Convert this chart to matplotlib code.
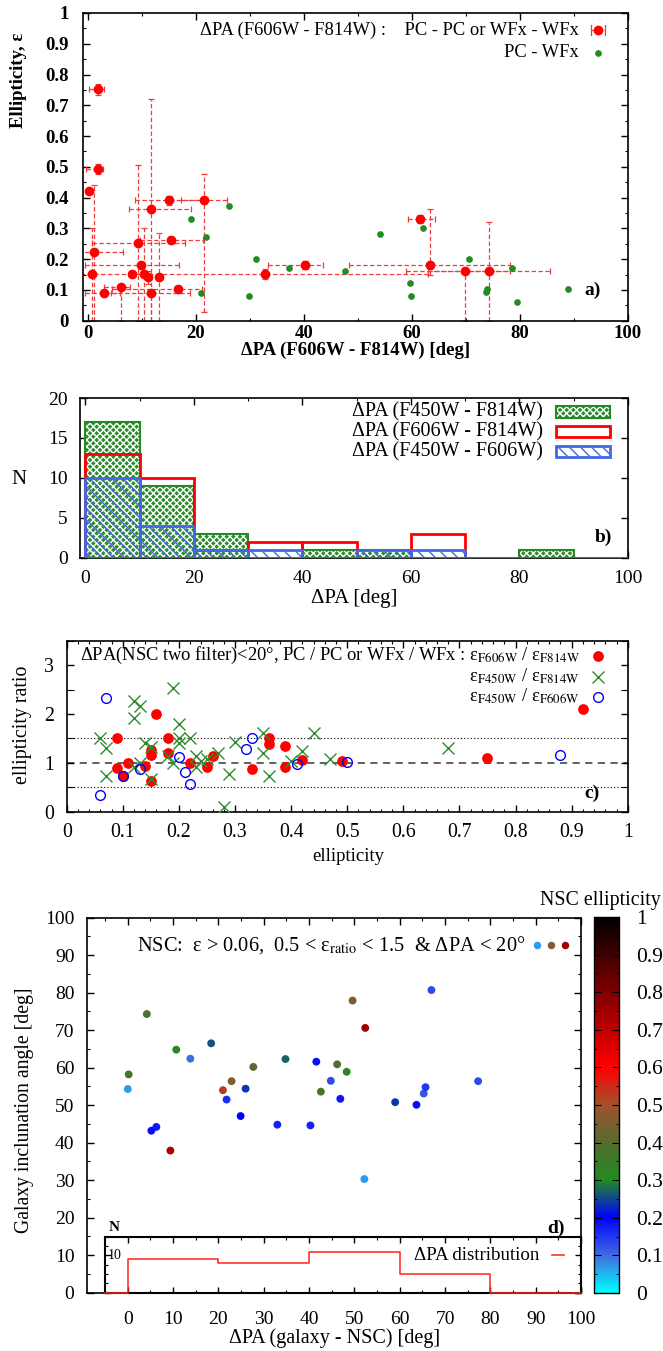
import numpy as np
import matplotlib
matplotlib.use("Agg")
import matplotlib.pyplot as plt
from matplotlib.colors import LinearSegmentedColormap
from matplotlib.patches import Rectangle
from matplotlib.ticker import MultipleLocator, FuncFormatter

plt.rcParams['font.family'] = ['Liberation Serif', 'DejaVu Serif']
plt.rcParams['mathtext.fontset'] = 'stix'
plt.rcParams['hatch.linewidth'] = 1.0

# ---------------- panel a: NSC ellipticity vs ΔPA(F606W - F814W)
a_dpa = [1.9, 1.8, 0.2, 1.05, 0.75, 2.95, 6.1, 8.1, 9.3, 9.8, 10.3, 11.05, 11.6,
         11.7, 13.1, 15.0, 21.5, 15.4, 16.7, 32.7, 40.2, 61.6, 63.4, 69.8, 74.3]
a_eps = [0.752, 0.492, 0.423, 0.222, 0.152, 0.091, 0.110, 0.152, 0.252, 0.181,
         0.152, 0.143, 0.362, 0.091, 0.142, 0.391, 0.391, 0.262, 0.102, 0.151,
         0.181, 0.331, 0.181, 0.163, 0.163]
a_dpa_lo = [0.2, -0.3, 0.2, -4.4, 0.3, -0.6, 3.0, 8.1, 0.7, -0.6, 10.3, 11.05, 7.6,
            4.2, 13.1, 8.7, 17.3, 9.6, 4.4, -1.5, 33.4, 59.2, 48.4, 59.0, 63.0]
a_dpa_hi = [3.0, 2.8, 0.2, 6.5, 1.2, 6.0, 7.8, 8.1, 18.0, 16.8, 10.3, 11.05, 19.1,
            18.9, 13.1, 21.5, 25.7, 21.3, 21.1, 63.0, 43.6, 64.3, 78.2, 78.2, 85.6]
a_eps_lo = [0.735, 0.477, 0.423, 0.0, 0.0, 0.085, 0.0, 0.152, 0.0, 0.175, 0.0,
            0.120, 0.0, 0.0, 0.0, 0.375, 0.029, 0.252, 0.095, 0.135, 0.168,
            0.318, 0.149, 0.0, 0.0]
a_eps_hi = [0.770, 0.510, 0.423, 0.440, 0.300, 0.097, 0.110, 0.152, 0.505, 0.188,
            0.300, 0.160, 0.720, 0.091, 0.284, 0.405, 0.477, 0.272, 0.110, 0.168,
            0.194, 0.345, 0.362, 0.163, 0.322]
a_wfx_dpa = [19.0, 26.1, 21.85, 31.2, 29.8, 21.0, 37.2, 47.7, 54.1, 59.7, 59.8,
             62.1, 70.6, 78.6, 73.9, 73.7, 79.5, 88.9]
a_wfx_eps = [0.331, 0.372, 0.271, 0.201, 0.081, 0.091, 0.172, 0.161, 0.282, 0.121,
             0.081, 0.301, 0.201, 0.171, 0.102, 0.092, 0.061, 0.102]

# ---------------- panel b: ΔPA histograms (10 deg bins)
b_edges = [0, 10, 20, 30, 40, 50, 60, 70, 80, 90, 100]
b_n_450_814 = [17, 9, 3, 0, 1, 1, 0, 0, 1, 0]
b_n_606_814 = [13, 10, 1, 2, 2, 0, 3, 0, 0, 0]
b_n_450_606 = [10, 4, 1, 1, 0, 1, 1, 0, 0, 0]
b_labels = ['ΔPA (F450W - F814W)', 'ΔPA (F606W - F814W)', 'ΔPA (F450W - F606W)']

# ---------------- panel c: ellipticity ratios
c_eps_606_814 = [0.09, 0.09, 0.11, 0.10, 0.14, 0.15, 0.15, 0.15, 0.16, 0.18, 0.18,
                 0.22, 0.25, 0.26, 0.33, 0.36, 0.36, 0.39, 0.39, 0.42, 0.49, 0.75, 0.92]
c_rat_606_814 = [1.50, 0.90, 1.00, 0.72, 0.94, 1.26, 1.15, 0.63, 2.00, 1.50, 1.21,
                 0.99, 0.92, 1.14, 0.87, 1.50, 1.38, 1.34, 0.91, 1.06, 1.04, 1.10, 2.10]
c_eps_450_814 = [0.06, 0.07, 0.07, 0.12, 0.13, 0.12, 0.14, 0.15, 0.13, 0.12, 0.15,
                 0.19, 0.20, 0.20, 0.20, 0.22, 0.18, 0.19, 0.23, 0.23, 0.24, 0.25,
                 0.27, 0.28, 0.29, 0.30, 0.35, 0.35, 0.36, 0.40, 0.42, 0.44, 0.47, 0.68]
c_rat_450_814 = [1.50, 1.30, 0.73, 2.26, 2.16, 1.92, 1.41, 1.33, 1.00, 0.92, 0.67,
                 2.53, 1.80, 1.50, 1.40, 1.50, 1.14, 1.00, 1.14, 0.92, 1.04, 1.07,
                 1.20, 0.10, 0.77, 1.42, 1.60, 1.20, 0.73, 1.04, 1.25, 1.62, 1.07, 1.30]
c_eps_450_606 = [0.06, 0.07, 0.10, 0.13, 0.20, 0.21, 0.22, 0.32, 0.33, 0.41, 0.50, 0.88]
c_rat_450_606 = [0.34, 2.33, 0.72, 0.87, 1.12, 0.81, 0.57, 1.28, 1.50, 0.97, 1.02, 1.17]

# ---------------- panel d: galaxy inclination vs ΔPA(galaxy - NSC)
d_dpa = [0.2, 0.0, 4.2, 5.2, 6.3, 9.4, 10.7, 13.8, 18.4, 21.0, 21.8, 22.9, 24.9,
         26.0, 27.7, 33.0, 34.8, 40.3, 41.6, 42.6, 44.8, 46.2, 46.9, 48.3, 49.6,
         52.4, 52.2, 59.0, 63.7, 65.3, 65.7, 67.0, 77.3]
d_incl = [58.2, 54.3, 74.3, 43.2, 44.2, 37.9, 64.8, 62.4, 66.5, 54.0, 51.5, 56.4,
          47.1, 54.4, 60.2, 44.8, 62.3, 44.6, 61.6, 53.6, 56.5, 60.9, 51.7, 58.9,
          77.9, 70.6, 30.3, 50.8, 50.1, 53.1, 54.8, 80.7, 56.4]
d_eps = [0.38, 0.07, 0.38, 0.19, 0.18, 0.72, 0.31, 0.10, 0.26, 0.53, 0.16, 0.46,
         0.20, 0.24, 0.40, 0.17, 0.27, 0.17, 0.19, 0.37, 0.13, 0.38, 0.18, 0.31,
         0.46, 0.75, 0.07, 0.24, 0.19, 0.12, 0.15, 0.13, 0.13]
d_hist_edges = [0, 20, 40, 60, 80, 100]
d_key_eps = [0.07, 0.46, 0.75]

nsc_cmap = LinearSegmentedColormap.from_list('nsc', [
    (0.0, '#00ffff'), (0.1, '#4169e1'), (0.2, '#0000ff'), (0.3, '#228b22'),
    (0.4, '#556b2f'), (0.5, '#a0522d'), (0.6, '#ff0000'), (1.0, '#000000')])

fmt_g = FuncFormatter(lambda v, p: '%g' % round(v, 6))


def style(ax, fs, maj=5, mnr=2.5):
    ax.tick_params(which='both', direction='in', top=True, right=True, labelsize=fs)
    ax.tick_params(which='major', length=maj, width=1.0)
    ax.tick_params(which='minor', length=mnr, width=0.8)
    for s in ax.spines.values():
        s.set_linewidth(1.2)


fig = plt.figure(figsize=(6.63, 13.51), dpi=100)

# ======================= a) =======================
ax = fig.add_axes([0.1247, 0.7626, 0.822, 0.2278])
ax.set_xlim(-1, 100)
ax.set_ylim(0, 1)
x = np.array(a_dpa); y = np.array(a_eps)
eb = ax.errorbar(x, y,
                 xerr=[x - np.array(a_dpa_lo), np.array(a_dpa_hi) - x],
                 yerr=[y - np.array(a_eps_lo), np.array(a_eps_hi) - y],
                 fmt='none', ecolor='#f23a3a', elinewidth=0.9, capsize=2.5,
                 capthick=0.9, zorder=2)
for lc in eb[2]:
    lc.set_linestyle((0, (3.5, 2)))
ax.plot(a_dpa, a_eps, 'o', color='red', ms=6, zorder=3)
ax.plot(a_wfx_dpa, a_wfx_eps, 'o', color='#228b22', ms=3.8, zorder=3)
ax.xaxis.set_major_locator(MultipleLocator(20))
ax.xaxis.set_minor_locator(MultipleLocator(10))
ax.yaxis.set_major_locator(MultipleLocator(0.1))
ax.yaxis.set_minor_locator(MultipleLocator(0.05))
ax.xaxis.set_major_formatter(fmt_g)
ax.yaxis.set_major_formatter(fmt_g)
style(ax, 13.5)
ax.tick_params(axis='y', pad=10)
ax.tick_params(axis='x', pad=3)
plt.setp(ax.get_xticklabels() + ax.get_yticklabels(), fontweight='bold')
ax.text(0.5, -0.095, 'ΔPA (F606W - F814W) [deg]', transform=ax.transAxes,
        ha='center', va='center', fontsize=13.5, fontweight='bold')
ax.text(-0.117, 0.78, 'Ellipticity, ε', transform=ax.transAxes, rotation=90,
        ha='center', va='center', fontsize=13.5, fontweight='bold')
ax.text(0.911, 0.945, 'ΔPA (F606W - F814W) :    PC - PC or WFx - WFx',
        transform=ax.transAxes, ha='right', va='center', fontsize=13.3)
ax.text(0.911, 0.870, 'PC - WFx', transform=ax.transAxes, ha='right',
        va='center', fontsize=13.3)
ax.plot([0.932, 0.958], [0.945, 0.945], transform=ax.transAxes, color='#f23a3a',
        lw=0.9, ls=(0, (2, 1.5)), clip_on=False)
for xe in (0.932, 0.958):
    ax.plot([xe, xe], [0.93, 0.96], transform=ax.transAxes, color='#f23a3a',
            lw=0.9, clip_on=False)
ax.plot([0.945], [0.945], 'o', color='red', ms=6, transform=ax.transAxes, clip_on=False)
ax.plot([0.945], [0.870], 'o', color='#228b22', ms=3.8, transform=ax.transAxes,
        clip_on=False)
ax.text(0.936, 0.099, 'a)', transform=ax.transAxes, ha='center', va='center',
        fontsize=14, fontweight='bold')

# ======================= b) =======================
ax = fig.add_axes([0.1207, 0.5872, 0.8265, 0.1182])
ax.set_xlim(-1, 100)
ax.set_ylim(0, 20)
left = b_edges[:-1]
green, red, blue = '#228b22', '#ff0000', '#4169e1'
ax.bar(left, b_n_450_814, width=10, align='edge', facecolor='#2e8b2e',
       edgecolor='white', hatch='xxxxx', linewidth=0, zorder=2)
ax.bar(left, b_n_450_814, width=10, align='edge', fill=False, edgecolor=green,
       linewidth=1.5, zorder=3)
ax.bar(left, b_n_606_814, width=10, align='edge', fill=False, edgecolor=red,
       linewidth=2.0, zorder=4)
ax.bar(left, b_n_450_606, width=10, align='edge', facecolor='none', edgecolor=blue,
       hatch='\\\\\\', linewidth=2.0, zorder=5)
ax.xaxis.set_major_locator(MultipleLocator(20))
ax.xaxis.set_minor_locator(MultipleLocator(10))
ax.yaxis.set_major_locator(MultipleLocator(5))
style(ax, 14)
ax.tick_params(axis='y', pad=9)
ax.tick_params(axis='x', pad=9)
ax.text(0.5, -0.255, 'ΔPA [deg]', transform=ax.transAxes, ha='center',
        va='center', fontsize=15)
ax.text(-0.111, 0.487, 'N', transform=ax.transAxes, ha='center', va='center',
        fontsize=15)
rows = [0.912, 0.789, 0.664]
for i, (lab, yy) in enumerate(zip(b_labels, rows)):
    ax.text(0.845, yy, lab, transform=ax.transAxes, ha='right', va='center',
            fontsize=14.5)
    r = dict(xy=(0.868, yy - 0.036), width=0.1, height=0.072,
             transform=ax.transAxes, clip_on=False)
    if i == 0:
        ax.add_patch(Rectangle(facecolor='#2e8b2e', edgecolor='white', hatch='xxxxx',
                               linewidth=0, zorder=6, **r))
        ax.add_patch(Rectangle(fill=False, edgecolor=green, linewidth=1.5, zorder=7, **r))
    elif i == 1:
        ax.add_patch(Rectangle(fill=False, edgecolor=red, linewidth=2.0, zorder=7, **r))
    else:
        ax.add_patch(Rectangle(facecolor='none', edgecolor=blue, hatch='\\\\\\',
                               linewidth=2.0, zorder=7, **r))
ax.text(0.955, 0.13, 'b)', transform=ax.transAxes, ha='center', va='center',
        fontsize=14, fontweight='bold')

# ======================= c) =======================
ax = fig.add_axes([0.1006, 0.3992, 0.8462, 0.1266])
ax.set_xlim(0, 1)
ax.set_ylim(0, 3.5)
ax.axhline(1.0, color='#555555', lw=1.3, ls=(0, (4, 3)), zorder=1)
ax.axhline(0.5, color='black', lw=0.8, ls=(0, (1, 2)), zorder=1)
ax.axhline(1.5, color='black', lw=0.8, ls=(0, (1, 2)), zorder=1)
ax.plot(c_eps_606_814, c_rat_606_814, 'o', color='red', ms=6.7, zorder=3)
ax.plot(c_eps_450_814, c_rat_450_814, 'x', color='#2e8b2e', ms=8, mew=1.0, zorder=4)
ax.plot(c_eps_450_606, c_rat_450_606, 'o', mfc='none', mec='blue', ms=7, mew=1.0,
        zorder=5)
ax.xaxis.set_major_locator(MultipleLocator(0.1))
ax.xaxis.set_minor_locator(MultipleLocator(0.02))
ax.yaxis.set_major_locator(MultipleLocator(1))
ax.yaxis.set_minor_locator(MultipleLocator(0.5))
ax.xaxis.set_major_formatter(fmt_g)
style(ax, 14.3)
ax.tick_params(axis='y', which='minor', length=5)
ax.tick_params(axis='y', pad=9)
ax.tick_params(axis='x', pad=8)
ax.text(0.501, -0.26, 'ellipticity', transform=ax.transAxes, ha='center',
        va='center', fontsize=13.5)
ax.text(-0.079, 0.507, 'ellipticity ratio', transform=ax.transAxes, rotation=90,
        ha='center', va='center', fontsize=14.3)
ax.text(0.915, 0.911,
        r'ΔPA(NSC two filter)<20°, PC / PC or WFx / WFx : ε$_{\rm F606W}$ / ε$_{\rm F814W}$',
        transform=ax.transAxes, ha='right', va='center', fontsize=13.3)
ax.text(0.915, 0.790, r'ε$_{\rm F450W}$ / ε$_{\rm F814W}$', transform=ax.transAxes,
        ha='right', va='center', fontsize=13.3)
ax.text(0.915, 0.673, r'ε$_{\rm F450W}$ / ε$_{\rm F606W}$', transform=ax.transAxes,
        ha='right', va='center', fontsize=13.3)
ax.plot([0.947], [0.911], 'o', color='red', ms=6.7, transform=ax.transAxes, clip_on=False)
ax.plot([0.947], [0.790], 'x', color='#2e8b2e', ms=8, mew=1.0, transform=ax.transAxes,
        clip_on=False)
ax.plot([0.947], [0.673], 'o', mfc='none', mec='blue', ms=7, mew=1.0,
        transform=ax.transAxes, clip_on=False)
ax.text(0.936, 0.109, 'c)', transform=ax.transAxes, ha='center', va='center',
        fontsize=14, fontweight='bold')

# ======================= d) =======================
ax = fig.add_axes([0.1312, 0.04315, 0.7451, 0.2776])
ax.set_xlim(-9, 100)
ax.set_ylim(0, 100)
sc = ax.scatter(d_dpa, d_incl, c=d_eps, cmap=nsc_cmap, vmin=0, vmax=1, s=32,
                linewidths=0, zorder=3)
ax.xaxis.set_major_locator(MultipleLocator(10))
ax.xaxis.set_minor_locator(MultipleLocator(5))
ax.yaxis.set_major_locator(MultipleLocator(10))
ax.yaxis.set_minor_locator(MultipleLocator(5))
ax.set_xticks(np.arange(0, 101, 10))
style(ax, 14)
ax.tick_params(axis='y', pad=9)
ax.tick_params(axis='x', pad=13)
ax.text(0.502, -0.121, 'ΔPA (galaxy - NSC) [deg]', transform=ax.transAxes,
        ha='center', va='center', fontsize=14.5)
ax.text(-0.1255, 0.487, 'Galaxy inclunation angle [deg]', transform=ax.transAxes,
        rotation=90, ha='center', va='center', fontsize=14.2)
ax.text(0.887, 0.927,
        r'NSC:  ε > 0.06,  0.5 < ε$_{\rm ratio}$ < 1.5  & ΔPA < 20°',
        transform=ax.transAxes, ha='right', va='center', fontsize=14.7)
for xk, ek in zip([0.911, 0.939, 0.968], d_key_eps):
    ax.plot([xk], [0.927], 'o', ms=5.4, mew=0, color=nsc_cmap(ek),
            transform=ax.transAxes, clip_on=False)
ax.text(0.949, 0.172, 'd)', transform=ax.transAxes, ha='center', va='center',
        fontsize=14, fontweight='bold')

# inset: ΔPA distribution
ins = fig.add_axes([0.1584, 0.04315, 0.718, 0.04145])
ins.set_facecolor('white')
ins.set_xlim(-5, 100)
ins.set_ylim(0, 15)
counts, _ = np.histogram(d_dpa, bins=d_hist_edges)
step_x = [-5] + list(d_hist_edges)
step_y = [0] + list(counts) + [0]
ins.step(step_x, step_y, where='post', color='#ff2020', lw=1.1, zorder=3,
         clip_on=False)
ins.xaxis.set_major_locator(MultipleLocator(10))
ins.xaxis.set_minor_locator(MultipleLocator(5))
ins.yaxis.set_major_locator(MultipleLocator(10))
ins.yaxis.set_minor_locator(MultipleLocator(2.5))
style(ins, 8, maj=4, mnr=2)
ins.tick_params(labelleft=False, labelbottom=False)
for s in ins.spines.values():
    s.set_linewidth(1.5)
ins.text(-4.3, 10, '10', ha='left', va='center', fontsize=10)
ins.text(0.008, 1.17, 'N', transform=ins.transAxes, ha='left', va='center',
         fontsize=11, fontweight='bold')
ins.text(0.912, 0.673, 'ΔPA distribution', transform=ins.transAxes, ha='right',
         va='center', fontsize=13.6)
ins.plot([0.939, 0.964], [0.673, 0.673], color='#ff2020', lw=1.1,
         transform=ins.transAxes)

# colour bar
cax = fig.add_axes([0.8959, 0.0429, 0.0382, 0.2783])
cb = fig.colorbar(sc, cax=cax)
cb.set_ticks(np.arange(0, 1.01, 0.1))
cb.ax.yaxis.set_major_formatter(fmt_g)
cb.ax.yaxis.set_minor_locator(MultipleLocator(0.05))
cb.ax.tick_params(which='both', direction='in', left=True, right=True, labelsize=15.5,
                  pad=12, color='black')
cb.ax.tick_params(which='major', length=5)
cb.ax.tick_params(which='minor', length=2.5)
cb.outline.set_linewidth(1.0)
fig.text(600 / 663, 1 - 900 / 1351, 'NSC ellipticity', ha='center', va='center',
         fontsize=14.3)

fig.savefig('out.png', dpi=100)
